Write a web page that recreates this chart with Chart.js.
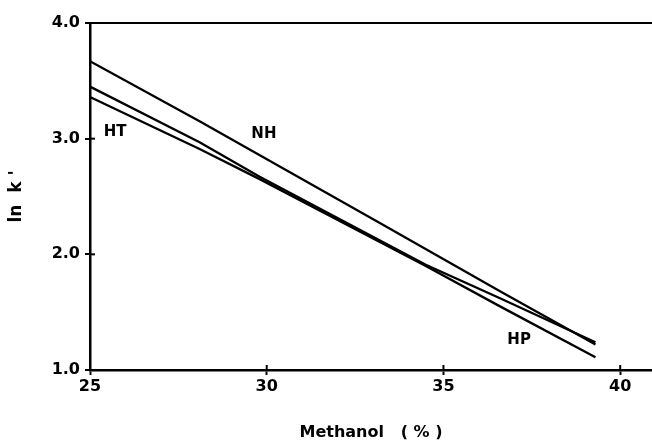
<!DOCTYPE html>
<html><head><meta charset="utf-8">
<script src="https://cdn.jsdelivr.net/npm/chart.js@4/dist/chart.umd.min.js"></script>
<style>html,body{margin:0;padding:0;background:#fff}#wrap{width:652px;height:444px}</style>
</head><body><div id="wrap"><canvas id="c" width="652" height="444"></canvas></div>
<script>
const methanolNH = [25, 28.1, 33.2, 36.6, 39.3];
const lnkNH      = [3.67, 3.15, 2.27, 1.68, 1.22];
const methanolHT = [25, 28.1, 29.8, 34.5, 36.6, 39.3];
const lnkHT      = [3.45, 2.97, 2.67, 1.91, 1.62, 1.24];
const methanolHP = [25, 28.1, 29.8, 34.5, 36.6, 39.3];
const lnkHP      = [3.36, 2.91, 2.65, 1.90, 1.55, 1.11];
const xTicks = [25, 30, 35, 40];
const yTicks = [1, 2, 3, 4];
const seriesNames = ['NH', 'HT', 'HP'];
const nameAnchors = [{text:'HT', x:25.71, y:3.06}, {text:'NH', x:29.92, y:3.04}, {text:'HP', x:37.14, y:1.26}];

const FONT = 'DejaVu Sans';
const pts = (xs, ys) => xs.map((v, i) => ({x: v, y: ys[i]}));

const innerTicks = {
  id: 'innerTicks',
  afterDraw(chart) {
    const {ctx, scales: {x, y}} = chart;
    ctx.save();
    ctx.strokeStyle = '#000';
    ctx.lineWidth = 2;
    xTicks.forEach(v => {
      const px = x.getPixelForValue(v);
      ctx.beginPath(); ctx.moveTo(px, y.bottom); ctx.lineTo(px, y.bottom - 5); ctx.stroke();
    });
    yTicks.forEach(v => {
      const py = y.getPixelForValue(v);
      ctx.beginPath(); ctx.moveTo(x.left, py); ctx.lineTo(x.left + 5, py); ctx.stroke();
    });
    ctx.fillStyle = '#000';
    ctx.font = 'bold 15px "' + FONT + '"';
    ctx.textAlign = 'center';
    ctx.textBaseline = 'middle';
    nameAnchors.forEach(a => ctx.fillText(a.text, x.getPixelForValue(a.x), y.getPixelForValue(a.y)));
    ctx.restore();
  }
};

new Chart(document.getElementById('c'), {
  type: 'line',
  data: {
    datasets: [
      {label: seriesNames[0], data: pts(methanolNH, lnkNH)},
      {label: seriesNames[1], data: pts(methanolHT, lnkHT)},
      {label: seriesNames[2], data: pts(methanolHP, lnkHP)}
    ].map(d => Object.assign(d, {borderColor:'#000', borderWidth:2.3, pointRadius:0, tension:0, fill:false}))
  },
  options: {
    responsive: false,
    animation: false,
    devicePixelRatio: 1,
    layout: {padding: {top: 23, right: 0, left: 0, bottom: 0}},
    plugins: {legend: {display: false}, tooltip: {enabled: false}},
    scales: {
      x: {
        type: 'linear', min: 25, max: 40.9,
        afterBuildTicks: s => { s.ticks = xTicks.map(v => ({value: v})); },
        afterFit: s => { s.height = 74; },
        border: {color: '#000', width: 2.5},
        grid: {drawOnChartArea: false, tickLength: 5, tickColor: '#000', tickWidth: 2},
        ticks: {color: '#000', font: {family: FONT, weight: 'bold', size: 16}, padding: 2, maxRotation: 0, autoSkip: false},
        title: {display: true, text: 'Methanol   ( % )', color: '#000', font: {family: FONT, weight: 'bold', size: 16}, padding: {top: 0, bottom: 2}}
      },
      y: {
        type: 'linear', min: 1, max: 4,
        afterBuildTicks: s => { s.ticks = yTicks.map(v => ({value: v})); },
        afterFit: s => { s.width = 90; },
        border: {color: '#000', width: 2.5},
        grid: {
          drawOnChartArea: true, tickLength: 5, tickColor: '#000', tickWidth: 2, lineWidth: 2,
          color: c => (c.tick && c.tick.value === 4) ? '#000' : 'rgba(0,0,0,0)'
        },
        ticks: {color: '#000', font: {family: FONT, weight: 'bold', size: 16}, padding: 5, callback: v => v.toFixed(1)},
        title: {display: true, text: "ln  k '", color: '#000', font: {family: FONT, weight: 'bold', size: 17}, padding: {top: 6, bottom: 0}}
      }
    }
  },
  plugins: [innerTicks]
});
</script>
</body></html>
